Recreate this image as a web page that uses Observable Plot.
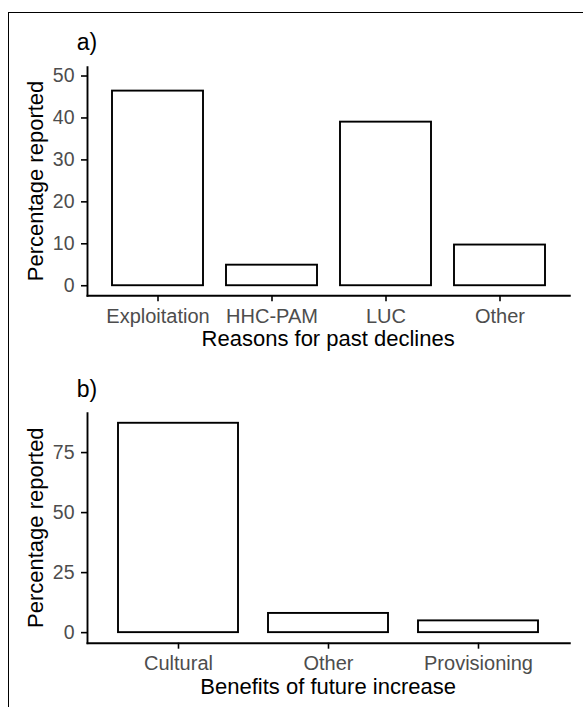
<!DOCTYPE html>
<html><head><meta charset="utf-8">
<script src="https://cdn.jsdelivr.net/npm/d3@7"></script>
<script src="https://cdn.jsdelivr.net/npm/@observablehq/plot@0.6"></script>
<style>
html,body{margin:0;padding:0;background:#fff;}
body{width:583px;height:707px;overflow:hidden;position:relative;font-family:"Liberation Sans",Arial,sans-serif;}
#border{position:absolute;left:8px;top:12px;width:700px;height:800px;border-left:1.5px solid #000;border-top:1.5px solid #000;}
.panel{position:absolute;left:0;}
</style></head><body>
<div id="border"></div>
<div id="a" class="panel" style="top:0px"></div>
<div id="b" class="panel" style="top:340px"></div>
<script>
// Panel a: reasons for past declines
const declineReasons = ["Exploitation", "HHC-PAM", "LUC", "Other"];
const declinePercent = [46.4, 4.9, 39.0, 9.7];
const declineTicks = [0, 10, 20, 30, 40, 50];
// Panel b: benefits of future increase
const benefitTypes = ["Cultural", "Other", "Provisioning"];
const benefitPercent = [87.2, 8.0, 4.9];
const benefitTicks = [0, 25, 50, 75];

const FONT = "'Liberation Sans', Arial, sans-serif";

function panel(opts) {
  const data = opts.cats.map((c, i) => ({category: c, value: opts.vals[i]}));
  const svg = Plot.plot({
    width: 583,
    height: opts.height,
    marginLeft: 87,
    marginRight: 13.7,
    marginTop: opts.marginTop,
    marginBottom: opts.marginBottom,
    style: {background: "transparent", fontFamily: FONT, overflow: "visible"},
    x: {type: "band", domain: opts.cats, paddingInner: 0.2, paddingOuter: 0.2, align: 0.5, label: null},
    y: {domain: opts.yDomain, label: null},
    marks: [
      Plot.barY(data, {x: "category", y: "value", fill: "white", stroke: "black", strokeWidth: 1.9}),
      Plot.frame({anchor: "left", stroke: "black", strokeWidth: 1.9}),
      Plot.frame({anchor: "bottom", stroke: "black", strokeWidth: 1.9}),
      Plot.axisX({tickSize: 6, tickPadding: 6.5, fontSize: 20, fill: "#4d4d4d", stroke: "black", strokeWidth: 1.6, label: null}),
      Plot.axisY({ticks: opts.ticks, tickSize: 6, tickPadding: 7, fontSize: 19.5, fill: "#4d4d4d", stroke: "black", strokeWidth: 1.6, label: null})
    ]
  });
  const s = d3.select(svg);
  s.append("text").attr("x", 87).attr("y", opts.tagY)
    .attr("font-size", 23).attr("fill", "black").attr("font-family", FONT).text(opts.tag);
  s.append("text").attr("x", (87 + 583 - 13.7) / 2).attr("y", opts.xTitleY)
    .attr("text-anchor", "middle").attr("font-size", 22).attr("fill", "black").attr("font-family", FONT).text(opts.xTitle);
  s.append("text").attr("transform", `translate(43.3,${opts.yTitleY}) rotate(-90)`)
    .attr("text-anchor", "middle").attr("font-size", 22).attr("fill", "black").attr("font-family", FONT).text(opts.yTitle);
  return svg;
}

document.getElementById("a").appendChild(panel({
  cats: declineReasons, vals: declinePercent, ticks: declineTicks,
  yDomain: [-2.4, 52.1], height: 360, marginTop: 66.7, marginBottom: 64.7,
  tag: "a)", tagY: 50, xTitle: "Reasons for past declines", xTitleY: 346.3,
  yTitle: "Percentage reported", yTitleY: 181
}));
document.getElementById("b").appendChild(panel({
  cats: benefitTypes, vals: benefitPercent, ticks: benefitTicks,
  yDomain: [-4.4, 91.4], height: 367, marginTop: 72.7, marginBottom: 64.3,
  tag: "b)", tagY: 57, xTitle: "Benefits of future increase", xTitleY: 354,
  yTitle: "Percentage reported", yTitleY: 187.7
}));
</script>
</body></html>
